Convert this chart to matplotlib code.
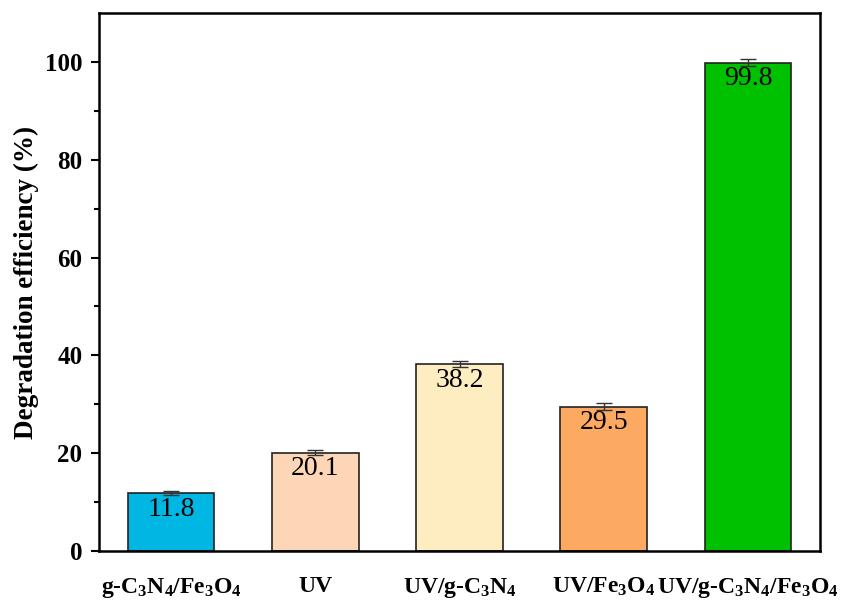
import matplotlib
matplotlib.use("Agg")
import matplotlib.pyplot as plt
import numpy as np

categories = ['g-C$_3$N$_4$/Fe$_3$O$_4$', 'UV', 'UV/g-C$_3$N$_4$', 'UV/Fe$_3$O$_4$', 'UV/g-C$_3$N$_4$/Fe$_3$O$_4$']
values = [11.8, 20.1, 38.2, 29.5, 99.8]
errors = [0.4, 0.5, 0.6, 0.7, 0.7]
colors = ['#00B6E2', '#FDD6B7', '#FEEDC0', '#FCA962', '#00C100']

plt.rcParams['font.family'] = ['Liberation Serif', 'DejaVu Serif']
plt.rcParams['mathtext.fontset'] = 'custom'
plt.rcParams['mathtext.bf'] = 'Liberation Serif:bold'
plt.rcParams['mathtext.rm'] = 'Liberation Serif:bold'
plt.rcParams['mathtext.default'] = 'bf'

fig = plt.figure(figsize=(8.46, 6.02), dpi=100)
ax = fig.add_axes([99/846, 1-551/602, (820-99)/846, (551-13)/602])

x = np.arange(len(categories))
ax.bar(x, values, width=0.6, color=colors, edgecolor='#222222', linewidth=1.2, zorder=2)
ax.errorbar(x, values, yerr=errors, fmt='none', ecolor='#333333', elinewidth=1.0, capsize=6, capthick=1.0, zorder=3)
for xi, v in zip(x, values):
    ax.annotate(f'{v}', (xi, v), xytext=(0, -2.5), textcoords='offset points',
                ha='center', va='top', fontsize=20, zorder=4)

ax.set_xlim(-0.5, 4.5)
ax.set_ylim(0, 110)
ax.set_yticks([0, 20, 40, 60, 80, 100])
ax.set_yticks(np.arange(10, 110, 20), minor=True)
ax.set_xticks(x)
ax.set_xticklabels(categories, fontsize=17, fontweight='bold')
ax.tick_params(axis='x', length=0, pad=18)
ax.tick_params(axis='y', which='major', length=6, width=1.5, direction='out', labelsize=18, pad=6)
ax.tick_params(axis='y', which='minor', length=3.5, width=1.5, direction='out')
for lbl in ax.get_yticklabels():
    lbl.set_fontweight('bold')
for s in ax.spines.values():
    s.set_linewidth(1.8)
ax.set_ylabel('Degradation efficiency (%)', fontsize=19.5, fontweight='bold', labelpad=4)

fig.savefig('out.png', dpi=100)
